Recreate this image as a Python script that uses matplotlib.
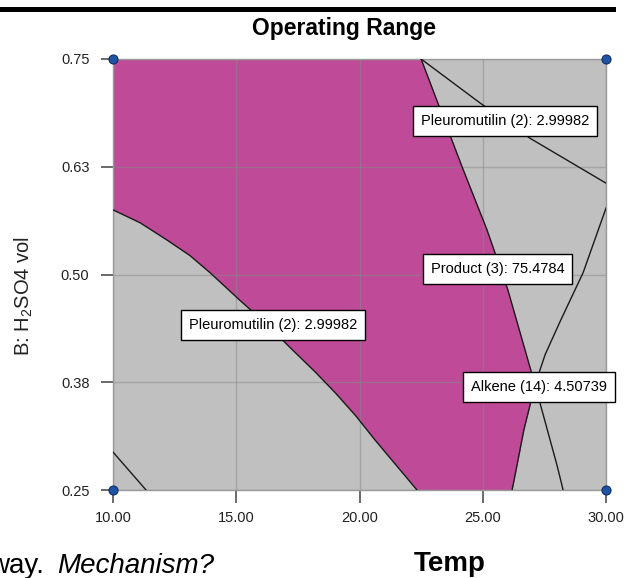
import numpy as np
import matplotlib
matplotlib.use("Agg")
import matplotlib.pyplot as plt
from matplotlib.patches import Rectangle

plt.rcParams['font.family'] = ['Liberation Sans', 'DejaVu Sans']
plt.rcParams['mathtext.default'] = 'regular'

# design space: A = Temp, B = H2SO4 vol
temp_range = [10.0, 30.0]
acid_range = [0.25, 0.75]
temp_ticks = [10, 15, 20, 25, 30]
temp_ticklabels = ["10.00", "15.00", "20.00", "25.00", "30.00"]
acid_ticks = [0.25, 0.375, 0.5, 0.625, 0.75]
acid_ticklabels = ["0.25", "0.38", "0.50", "0.63", "0.75"]

# contour Product (3) = 75.4784
product_t = [22.50, 24.16, 25.17, 26.02, 26.92, 27.12, 28.01, 28.26]
product_b = [0.750, 0.625, 0.552, 0.482, 0.392, 0.372, 0.279, 0.250]
# contour Alkene (14) = 4.50739
alkene_t = [30.00, 29.07, 28.13, 27.53, 27.12, 26.67, 26.35, 26.19]
alkene_b = [0.577, 0.502, 0.445, 0.407, 0.372, 0.320, 0.273, 0.250]
# contour Pleuromutilin (2) = 2.99982, upper branch
pleuro_hi_t = [22.50, 24.89, 26.92, 30.00]
pleuro_hi_b = [0.750, 0.699, 0.658, 0.606]
# lower branch
pleuro_lo_t = [10.00, 11.10, 12.19, 13.12, 13.94, 15.15, 16.17, 17.30, 18.20, 19.01, 19.85, 20.63, 22.33]
pleuro_lo_b = [0.575, 0.560, 0.540, 0.522, 0.502, 0.470, 0.444, 0.412, 0.387, 0.363, 0.336, 0.308, 0.250]
# short contour in the lower left corner
corner_t = [10.00, 11.34]
corner_b = [0.294, 0.250]

flag_text = ["Pleuromutilin (2): 2.99982", "Pleuromutilin (2): 2.99982",
             "Product (3): 75.4784", "Alkene (14): 4.50739"]
flag_t = [25.9, 16.5, 25.6, 27.3]
flag_b = [0.678, 0.441, 0.506, 0.369]

MAGENTA = '#be4a98'
GREY = '#c0c0c0'

fig = plt.figure(figsize=(6.34, 5.78), dpi=100)
ax = fig.add_axes([113/634, 1-490/578, 493/634, 431/578])
ax.set_facecolor(GREY)

# sweet spot: right of the lower pleuromutilin branch, left of product & alkene
b = np.linspace(acid_range[0], acid_range[1], 600)
x_left = np.interp(b, pleuro_lo_b[::-1], pleuro_lo_t[::-1], right=temp_range[0])
x_prod = np.interp(b, product_b[::-1], product_t[::-1])
x_alk = np.interp(b, alkene_b[::-1], alkene_t[::-1], right=temp_range[1])
x_right = np.minimum(x_prod, x_alk)
ax.fill_betweenx(b, x_left, x_right, color=MAGENTA, lw=0, zorder=1)

for t, v in [(product_t, product_b), (alkene_t, alkene_b), (pleuro_hi_t, pleuro_hi_b),
             (pleuro_lo_t, pleuro_lo_b), (corner_t, corner_b)]:
    ax.plot(t, v, color='#1a1a1a', lw=1.0, zorder=3)

ax.set_xlim(temp_range)
ax.set_ylim(acid_range)
ax.set_xticks(temp_ticks, temp_ticklabels)
ax.set_yticks(acid_ticks, acid_ticklabels)
ax.grid(True, color='#8a8a8a', alpha=0.5, lw=1.0, zorder=2)
ax.tick_params(direction='out', length=9, width=1.2, color='#505050',
               labelsize=10.5, labelcolor='#222222')
ax.tick_params(axis='x', pad=6)
ax.tick_params(axis='y', pad=8)
for s in ax.spines.values():
    s.set_color('#9a9a9a')
    s.set_linewidth(1.0)

# design points at the corners
ct = [temp_range[0], temp_range[1], temp_range[0], temp_range[1]]
cb = [acid_range[1], acid_range[1], acid_range[0], acid_range[0]]
ax.plot(ct, cb, 'o', ms=6.5, mfc='#2153a5', mec='#0e2d66', mew=0.8,
        clip_on=False, zorder=6)

for s, t, v in zip(flag_text, flag_t, flag_b):
    ax.text(t, v, s, ha='center', va='center', fontsize=10.5, zorder=7, clip_on=False,
            bbox=dict(boxstyle='square,pad=0.55', fc='white', ec='black', lw=1.0))

ax.set_ylabel('B: H$_2$SO4 vol', fontsize=14.5, color='#222222')
ax.yaxis.set_label_coords(-0.158, 0.45)

fig.text(344/634, 1-35/578, 'Operating Range', ha='center', va='baseline',
         fontsize=16.5, fontweight='bold')
fig.text(450/634, 1-571/578, 'Temp', ha='center', va='baseline',
         fontsize=20, fontweight='bold')
fig.text(-11/634, 1-573/578, 'way.', ha='left', va='baseline', fontsize=20)
fig.text(57/634, 1-573/578, 'Mechanism?', ha='left', va='baseline', fontsize=20,
         style='italic')

# black rule across the top
fig.add_artist(Rectangle((0, 1-12/578), 616/634, 5/578, transform=fig.transFigure,
                         color='black', lw=0))

fig.savefig('out.png', dpi=100)
